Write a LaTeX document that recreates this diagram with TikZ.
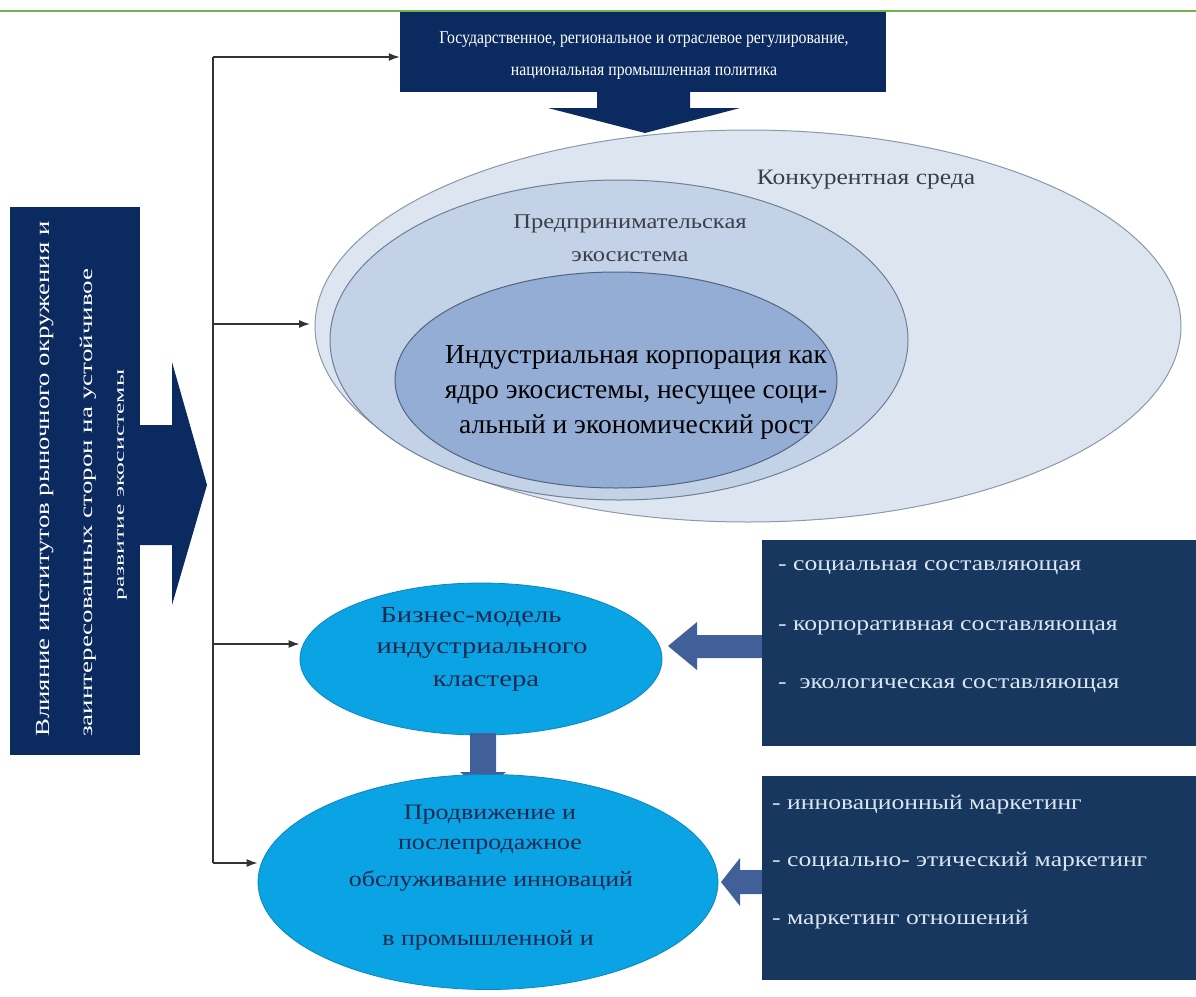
\documentclass[tikz,border=0pt]{standalone}
\usepackage{graphicx}
\usepackage{fontspec}
\setmainfont{Liberation Serif}
\usetikzlibrary{arrows.meta,shapes.geometric}
\definecolor{navy}{HTML}{0B2A60}
\definecolor{navyb}{HTML}{17375E}
\definecolor{arrowblue}{HTML}{41609A}
\definecolor{ellA}{HTML}{DDE5F1}
\definecolor{ellB}{HTML}{C3D2E7}
\definecolor{ellC}{HTML}{93ADD4}
\definecolor{ellborder}{HTML}{6F7F95}
\definecolor{cyanell}{HTML}{0AA3E4}
\definecolor{cyanborder}{HTML}{0A86C0}
\definecolor{txtlight}{HTML}{DCE6F2}
\definecolor{txtgray}{HTML}{3A3F4A}
\definecolor{txtdark}{HTML}{1A2A50}
\definecolor{greenline}{HTML}{70B443}
\definecolor{connline}{HTML}{333333}
\newcommand{\sx}[2]{\scalebox{#1}[1]{#2}}
\begin{document}
\begin{tikzpicture}[x=1pt,y=-1pt,
  navybox/.style={rectangle, fill=navy, draw=none, inner sep=0pt},
  rbox/.style={rectangle, fill=navyb, draw=none, inner sep=0pt},
  ell/.style={ellipse, inner sep=0pt, draw=ellborder, line width=1pt},
  cyanell/.style={ellipse, inner sep=0pt, fill=cyanell, draw=cyanborder, line width=0.8pt},
  conn/.style={draw=connline, line width=1.4pt},
  arr/.style={conn, -{Latex[length=11pt,width=8pt]}},
  boxtxt/.style={text=white, align=center, inner sep=0pt},
  itemtxt/.style={text=txtlight, anchor=west, inner sep=0pt, font=\fontsize{21}{24}\selectfont},
  biztxt/.style={text=txtdark, inner sep=0pt, font=\fontsize{23}{26}\selectfont},
  promtxt/.style={text=txtdark, inner sep=0pt, font=\fontsize{22}{25}\selectfont},
  elltxt/.style={align=center, inner sep=0pt},
  rottxt/.style={text=white, inner sep=0pt, rotate=90}
]
\useasboundingbox (0,0) rectangle (1196,996);
\fill[white] (0,0) rectangle (1196,996);
\draw[greenline, line width=1.5pt] (0,11) -- (1196,11);

% nested ellipses
\node[ell, fill=ellA, draw=ellborder!80, minimum width=866, minimum height=392] (comp) at (748,326) {};
\node[ell, fill=ellB, minimum width=578, minimum height=320] (eco) at (619,340) {};
\node[ell, fill=ellC, draw=ellborder!120, minimum width=442, minimum height=216] (core) at (616,380) {};
\node[elltxt, text=txtgray, font=\fontsize{22}{25}\selectfont] (complbl) at (866,180) {\sx{1.16}{Конкурентная среда}};
\node[elltxt, text=txtgray, font=\fontsize{21}{33}\selectfont] (ecolbl) at (630,238) {\sx{1.17}{Предпринимательская}\\\sx{1.17}{экосистема}};
\node[elltxt, text=black, font=\fontsize{27.5}{35}\selectfont] (corelbl) at (636,392) {Индустриальная корпорация как\\ядро экосистемы, несущее соци-\\альный и экономический рост};

% top box and its arrow
\node[navybox, minimum width=486, minimum height=80] (gov) at (643,52) {};
\node[boxtxt, font=\fontsize{18}{32}\selectfont] (govtxt) at (644,56) {\sx{0.876}{Государственное, региональное и отраслевое регулирование,}\\\sx{0.876}{национальная промышленная политика}};
\fill[navy] (597,92) -- (690,92) -- (690,108) -- (740,108) -- (645,133) -- (548,108) -- (597,108) -- cycle;

% left box
\node[navybox, minimum width=130, minimum height=548] (infl) at (75,481) {};
\node[rottxt, anchor=west, font=\fontsize{20}{22}\selectfont] (infl1) at (45,737) {\sx{1.34}{Влияние институтов рыночного окружения и}};
\node[rottxt, anchor=west, font=\fontsize{18}{20}\selectfont] (infl2) at (88,737) {\sx{1.5}{заинтересованных сторон на устойчивое}};
\node[rottxt, font=\fontsize{14}{16}\selectfont] (infl3) at (122,485) {\sx{1.83}{развитие экосистемы}};
\fill[navy] (infl.east |- 0,425) -- (172,425) -- (172,362) -- (207,485) -- (172,605) -- (172,545) -- (infl.east |- 0,545) -- cycle;

% business model ellipse
\node[cyanell, minimum width=362, minimum height=152] (biz) at (481,659) {};
\node[biztxt] (biz1) at (471,617) {\sx{1.25}{Бизнес-модель}};
\node[biztxt] (biz2) at (482,651) {\sx{1.25}{индустриального}};
\node[biztxt] (biz3) at (486,684) {\sx{1.25}{кластера}};

% arrow down between ellipses
\fill[arrowblue] (470,733) -- (496,733) -- (496,772) -- (506,772) -- (483,790) -- (460,772) -- (470,772) -- cycle;

% promotion ellipse
\node[cyanell, minimum width=460, minimum height=215] (prom) at (488,882) {};
\node[promtxt] (prom1) at (490,815) {\sx{1.18}{Продвижение и}};
\node[promtxt] (prom2) at (490,847) {\sx{1.18}{послепродажное}};
\node[promtxt] (prom3) at (491,881) {\sx{1.18}{обслуживание инноваций}};
\node[promtxt] (prom4) at (488,940) {\sx{1.18}{в промышленной и}};

% connectors
\coordinate (vt) at (213,57);
\coordinate (v1) at (213,324);
\coordinate (v2) at (213,644);
\coordinate (vb) at (213,863);
\draw[conn] (vt) -- (vb);
\draw[arr] (vt) -- (vt -| gov.west);
\draw[arr] (v1) -- (310,324);
\draw[arr] (v2) -- (v2 -| biz.west);
\draw[arr] (vb) -- (vb -| prom.west);

% right boxes
\node[rbox, minimum width=434, minimum height=206] (soc) at (979,643) {};
\node[itemtxt] (soc1) at (778,568) {\sx{1.22}{- социальная составляющая}};
\node[itemtxt] (soc2) at (778,628) {\sx{1.22}{- корпоративная составляющая}};
\node[itemtxt] (soc3) at (778,686) {\sx{1.22}{-\ \ экологическая составляющая}};
\fill[arrowblue] (soc.west |- 0,635) -- (697,635) -- (697,622) -- (668,646) -- (697,670) -- (697,658) -- (soc.west |- 0,658) -- cycle;

\node[rbox, minimum width=434, minimum height=204] (mkt) at (979,878) {};
\node[itemtxt] (mkt1) at (772,805) {\sx{1.22}{- инновационный маркетинг}};
\node[itemtxt] (mkt2) at (772,862) {\sx{1.22}{- социально- этический маркетинг}};
\node[itemtxt] (mkt3) at (772,920) {\sx{1.22}{- маркетинг отношений}};
\fill[arrowblue] (mkt.west |- 0,870) -- (740,870) -- (740,858) -- (721,882) -- (740,906) -- (740,894) -- (mkt.west |- 0,894) -- cycle;
\end{tikzpicture}
\end{document}
